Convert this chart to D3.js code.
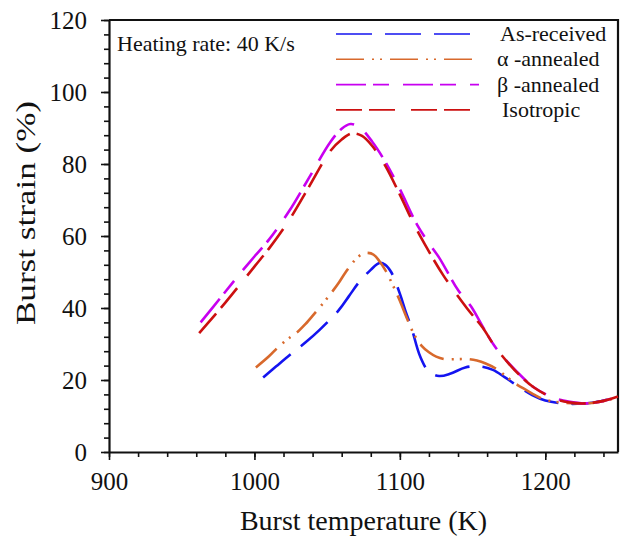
<!DOCTYPE html>
<html>
<head>
<meta charset="utf-8">
<script src="https://cdn.jsdelivr.net/npm/d3@7"></script>
<style>
  body { margin: 0; background: #fff; }
  svg text { font-family: "Liberation Serif", "Times New Roman", serif; fill: #111; }
</style>
</head>
<body>
<div id="chart"></div>
<script>
// valores (temperatura K, deformação %)
var asReceivedT = [1006, 1015, 1025, 1035, 1045, 1058, 1065, 1072, 1080, 1086, 1090, 1094, 1100, 1104, 1108, 1114, 1120, 1127, 1135, 1145, 1155, 1164, 1172, 1180, 1191, 1200, 1212, 1222, 1232, 1242, 1250];
var asReceivedV = [20.7, 23.8, 27.2, 30.4, 34, 39.4, 43.3, 47.2, 50.6, 52.5, 52, 50, 44, 39, 34.5, 26.5, 22.3, 21.1, 21.8, 23.5, 23.8, 22.8, 20.8, 18.6, 15.8, 14.3, 13.5, 13.4, 13.7, 14.5, 15.3];

var alphaT = [1001, 1010, 1017, 1025, 1030, 1035, 1042, 1049, 1054, 1058, 1062, 1068, 1074, 1078, 1082, 1086, 1090, 1095, 1100, 1105, 1110, 1115, 1120, 1125, 1131, 1140, 1147, 1153, 1159, 1166, 1173, 1181, 1187, 1193, 1200, 1212, 1222, 1232, 1242, 1250];
var alphaV = [23.5, 26.6, 29.4, 32, 33.5, 35.5, 38.8, 42.2, 44.8, 47, 49.5, 52.8, 55, 55.3, 54.8, 53, 50.5, 46.5, 42, 37, 32.5, 29.5, 27.7, 26.5, 25.8, 25.8, 25.8, 25.4, 24.6, 23.2, 21, 18.6, 17.2, 15.8, 14.5, 13.7, 13.5, 13.6, 14.3, 15.3];

var betaT = [963, 978, 990, 1000, 1010, 1024, 1038, 1052, 1060, 1066, 1072, 1081, 1090, 1100, 1112, 1120, 1127, 1140, 1149, 1157, 1165, 1175, 1185, 1192, 1205, 1216, 1228, 1240, 1250];
var betaV = [36, 43.5, 49.5, 54.3, 59, 67, 76.5, 86, 89.8, 91.1, 90.3, 86.2, 80.6, 73, 63, 58, 54, 45, 40.4, 34.8, 29.5, 24.6, 20.5, 18, 15.2, 14, 13.5, 14.2, 15.4];

var isoT = [962, 980, 1000, 1010, 1024, 1038, 1052, 1060, 1067, 1074, 1081, 1090, 1100, 1110, 1117, 1130, 1146, 1157, 1165, 1175, 1185, 1192, 1205, 1216, 1228, 1240, 1250];
var isoV = [33, 41.5, 51.5, 56.5, 64.5, 74, 83.5, 86.8, 88.5, 87.8, 85, 79.5, 71.5, 63, 57.8, 49, 40, 34.5, 29.5, 24.5, 20.3, 18, 15, 13.8, 13.5, 14.2, 15.4];

var seriesNames = ["As-received", "α -annealed", "β -annealed", "Isotropic"];
var xMajorTicks = [900, 1000, 1100, 1200];
var yMajorTicks = [0, 20, 40, 60, 80, 100, 120];

var series = [
    {nome: seriesNames[0], t: asReceivedT, v: asReceivedV, cor: "#1414f0", dash: "36,13"},
    {nome: seriesNames[1], t: alphaT, v: alphaV, cor: "#d8692c", dash: "28,8,2,6,2,8"},
    {nome: seriesNames[2], t: betaT, v: betaV, cor: "#c800f0", dash: "30,7,16,14"},
    {nome: seriesNames[3], t: isoT, v: isoV, cor: "#cc1010", dash: "26,7,26,16"}
];

var width = 624, height = 546;
var margin = {left: 109, right: 5, top: 20, bottom: 94};

var svg = d3.select("#chart").append("svg")
    .attr("width", width)
    .attr("height", height);

var x = d3.scaleLinear().domain([900, 1250]).range([margin.left, width - margin.right - 1]);
var y = d3.scaleLinear().domain([0, 120]).range([height - margin.bottom, margin.top]);

// eixos: marcas menores primeiro
var xMinor = d3.range(900, 1251, 20);
var yMinor = d3.range(0, 121, 4);

svg.append("g")
    .attr("transform", "translate(0," + y(0) + ")")
    .call(d3.axisBottom(x).tickValues(xMinor).tickSize(5).tickFormat(""))
    .call(function(g) { g.select(".domain").remove(); });

svg.append("g")
    .attr("transform", "translate(" + x(900) + ",0)")
    .call(d3.axisLeft(y).tickValues(yMinor).tickSize(5).tickFormat(""))
    .call(function(g) { g.select(".domain").remove(); });

var xAxis = svg.append("g")
    .attr("transform", "translate(0," + y(0) + ")")
    .call(d3.axisBottom(x).tickValues(xMajorTicks).tickFormat(d3.format("d")).tickSize(8).tickPadding(12).tickSizeOuter(0));

var yAxis = svg.append("g")
    .attr("transform", "translate(" + x(900) + ",0)")
    .call(d3.axisLeft(y).tickValues(yMajorTicks).tickFormat(d3.format("d")).tickSize(8).tickPadding(14).tickSizeOuter(0));

svg.selectAll(".tick line").style("stroke", "#111").style("stroke-width", 1.6);
svg.selectAll(".domain").style("stroke", "#111").style("stroke-width", 2.2);
xAxis.selectAll("text").style("font-size", "25px");
yAxis.selectAll("text").style("font-size", "25px");

// borda superior e direita
svg.append("path")
    .attr("d", "M" + x(900) + "," + y(120) + "H" + x(1250) + "V" + y(0))
    .style("fill", "none")
    .style("stroke", "#111")
    .style("stroke-width", 2.2);

var line = d3.line()
    .x(function(d) { return x(d[0]); })
    .y(function(d) { return y(d[1]); })
    .curve(d3.curveCatmullRom.alpha(0.5));

svg.append("g").selectAll(".curva")
    .data(series)
    .enter().append("path")
    .attr("class", "curva")
    .attr("d", function(s) { return line(d3.zip(s.t, s.v)); })
    .style("fill", "none")
    .style("stroke", function(s) { return s.cor; })
    .style("stroke-width", 2.6)
    .style("stroke-dasharray", function(s) { return s.dash; });

// legenda
var legenda = svg.append("g").selectAll(".leg")
    .data(series)
    .enter().append("g")
    .attr("class", "leg")
    .attr("transform", function(s, i) { return "translate(336," + (34 + i * 25.3) + ")"; });

legenda.append("line")
    .attr("x1", 0).attr("x2", 143)
    .style("stroke", function(s) { return s.cor; })
    .style("stroke-width", 1.6)
    .style("stroke-dasharray", function(s) { return s.dash; });

legenda.append("text")
    .attr("x", function(s, i) { return i == 3 ? 166 : (i == 0 ? 164 : 161); })
    .attr("y", 7)
    .style("font-size", "22px")
    .text(function(s) { return s.nome; });

svg.append("text")
    .attr("x", 117)
    .attr("y", 51)
    .style("font-size", "22px")
    .text("Heating rate: 40 K/s");

svg.append("text")
    .attr("x", (x(900) + x(1250)) / 2)
    .attr("y", 530)
    .attr("text-anchor", "middle")
    .style("font-size", "28px")
    .text("Burst temperature (K)");

// título do eixo y esticado como no original
svg.append("text")
    .attr("transform", "translate(35,213) rotate(-90) scale(1.3,1)")
    .attr("text-anchor", "middle")
    .style("font-size", "27px")
    .text("Burst strain (%)");
</script>
</body>
</html>
